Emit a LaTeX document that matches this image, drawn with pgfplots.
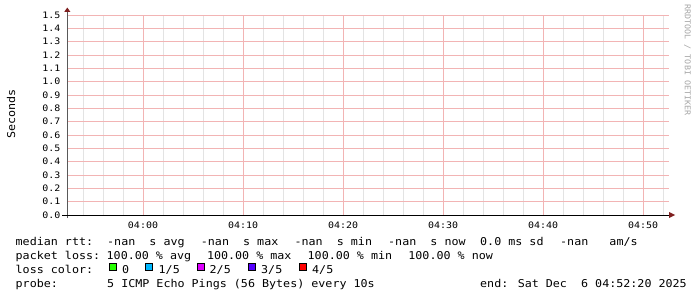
\documentclass[border=0pt]{standalone}
\usepackage{pgfplots}
\pgfplotsset{compat=1.18}
\usepackage{fontspec}
\newfontfamily\legfont[FakeStretch=1.083]{DejaVu Sans Mono}
\newfontfamily\tickfam[FakeStretch=1.12]{DejaVu Sans Mono}
\newfontfamily\wmfam[FakeStretch=1.04]{DejaVu Sans Mono}
\newcommand\LF{\legfont\fontsize{10.8bp}{13bp}\selectfont}
\newcommand\TF{\tickfam\fontsize{8.9bp}{10bp}\selectfont}
\newcommand\WF{\wmfam\fontsize{8bp}{10bp}\selectfont}
\definecolor{mgrid}{HTML}{F2B4B4}
\definecolor{mingrid}{HTML}{E3E3E3}
\definecolor{arrowc}{HTML}{7F1F1F}
\definecolor{lc0}{HTML}{26FF00}
\definecolor{lc1}{HTML}{00B8FF}
\definecolor{lc2}{HTML}{DD00FF}
\definecolor{lc3}{HTML}{5500FF}
\definecolor{lc4}{HTML}{FF0000}
\tikzset{mgl/.style={draw=mgrid, line width=1bp}}
\begin{document}
\begin{tikzpicture}
\useasboundingbox[fill=white] (0,0) rectangle (697bp,-297bp);
\begin{axis}[
  at={(67bp,-215bp)}, anchor=south west,
  scale only axis, width=602bp, height=200bp,
  xmin=-7.6, xmax=52.6, ymin=0, ymax=1.5,
  axis line style={draw=none},
  xtick={0,10,20,30,40,50},
  xticklabels={04:00,04:10,04:20,04:30,04:40,04:50},
  minor xtick={-6,-4,-2,2,4,6,8,12,14,16,18,22,24,26,28,32,34,36,38,42,44,46,48,52},
  ytick={0,0.1,0.2,0.3,0.4,0.5,0.6,0.7,0.8,0.9,1.0,1.1,1.2,1.3,1.4,1.5},
  /pgf/number format/assume math mode=true,
  yticklabel style={/pgf/number format/fixed, /pgf/number format/fixed zerofill, /pgf/number format/precision=1},
  xminorgrids=true,
  minor grid style={draw=mingrid, line width=0.8bp},
  major tick length=0pt, minor tick length=0pt,
  xticklabel style={font=\TF, inner sep=0pt, anchor=north, yshift=-6.2bp},
  yticklabel style={font=\TF, inner sep=0pt, anchor=east, xshift=-6.5bp},
]
\pgfplotsinvokeforeach{0.1,0.2,0.3,0.4,0.5,0.6,0.7,0.8,0.9,1.0,1.1,1.2,1.3,1.4,1.5}{
  \draw[mgl] (axis cs:-7.6,#1) -- (axis cs:52.6,#1);
}
\pgfplotsinvokeforeach{0,10,20,30,40,50}{
  \draw[mgl] (axis cs:#1,0) -- (axis cs:#1,1.5);
}
\end{axis}
% axis lines and arrows
\draw[line width=1bp, color=black!65] (67bp,-218bp) -- (67bp,-11bp);
\fill[arrowc] (64.3bp,-11.8bp) -- (70.3bp,-11.8bp) -- (67.3bp,-7.5bp) -- cycle;
\draw[line width=1bp, black] (62bp,-215bp) -- (670bp,-215bp);
\fill[arrowc] (669bp,-212bp) -- (669bp,-218bp) -- (675bp,-215bp) -- cycle;
% y label
\node[rotate=90, font=\LF, inner sep=0pt] at (11bp,-114bp) {Seconds};
% watermark
\node[rotate=-90, font=\WF, text=black!35, inner sep=0pt] at (687.5bp,-60bp) {RRDTOOL / TOBI OETIKER};
% legend
\tikzset{leg/.style={anchor=base west, inner sep=0pt, font=\LF}}
\node[leg] at (15.5bp,-245bp) {median rtt:};
\node[leg] at (107bp,-245bp) {-nan\ \ s avg};
\node[leg] at (200.7bp,-245bp) {-nan\ \ s max};
\node[leg] at (294.4bp,-245bp) {-nan\ \ s min};
\node[leg] at (388bp,-245bp) {-nan\ \ s now};
\node[leg] at (480bp,-245bp) {0.0 ms sd};
\node[leg] at (560bp,-245bp) {-nan\ \ \ am/s};
\node[leg] at (15.5bp,-259bp) {packet loss:};
\node[leg] at (106.5bp,-259bp) {100.00 \% avg};
\node[leg] at (206.8bp,-259bp) {100.00 \% max};
\node[leg] at (307.5bp,-259bp) {100.00 \% min};
\node[leg] at (408.2bp,-259bp) {100.00 \% now};
\node[leg] at (15.5bp,-273bp) {loss color:};
\filldraw[fill=lc0, draw=black, line width=1bp] (109.5bp,-263.5bp) rectangle (116.5bp,-270.5bp);
\filldraw[fill=lc1, draw=black, line width=1bp] (145.5bp,-263.5bp) rectangle (152.5bp,-270.5bp);
\filldraw[fill=lc2, draw=black, line width=1bp] (197.2bp,-263.5bp) rectangle (204.2bp,-270.5bp);
\filldraw[fill=lc3, draw=black, line width=1bp] (248.2bp,-263.5bp) rectangle (255.2bp,-270.5bp);
\filldraw[fill=lc4, draw=black, line width=1bp] (299.5bp,-263.5bp) rectangle (306.5bp,-270.5bp);
\node[leg] at (122bp,-273bp) {0};
\node[leg] at (158.5bp,-273bp) {1/5};
\node[leg] at (209.5bp,-273bp) {2/5};
\node[leg] at (261bp,-273bp) {3/5};
\node[leg] at (312bp,-273bp) {4/5};
\node[leg] at (15.5bp,-287bp) {probe:};
\node[leg] at (107bp,-287bp) {5 ICMP Echo Pings (56 Bytes) every 10s};
\node[leg] at (480bp,-287bp) {end: Sat Dec\ \ 6 04:52:20 2025};
\end{tikzpicture}
\end{document}
